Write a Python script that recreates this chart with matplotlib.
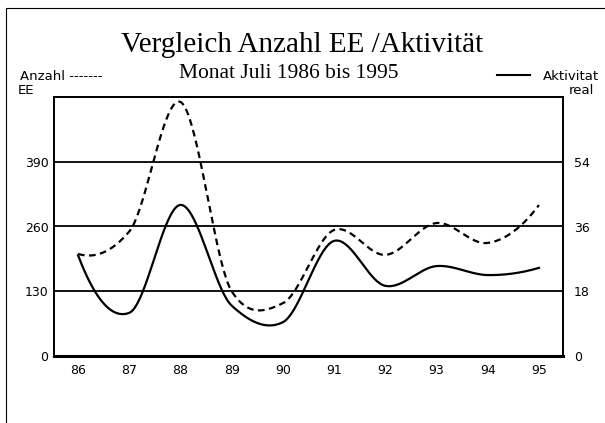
import numpy as np
import matplotlib
matplotlib.use("Agg")
import matplotlib.pyplot as plt
from matplotlib.patches import Rectangle

# Jahreswerte (Monat Juli)
jahre = [86, 87, 88, 89, 90, 91, 92, 93, 94, 95]
anzahl_ee = [205, 250, 510, 130, 106, 253, 203, 267, 227, 303]
aktivitaet = [28, 12, 42, 14, 9.4, 32, 19.5, 25, 22.5, 24.5]
x_labels = ["86", "87", "88", "89", "90", "91", "92", "93", "94", "95"]
left_ticks = [0, 130, 260, 390]
right_ticks = [0, 18, 36, 54]


def smooth(x, y, tension=0.8, n=40):
    """Geglättete Linie (Catmull-Rom-Hermite), wie bei alten Tabellenkalkulationen."""
    x = np.asarray(x, float)
    y = np.asarray(y, float)
    k = len(x)
    m = np.zeros(k)
    m[1:-1] = tension * (y[2:] - y[:-2]) / (x[2:] - x[:-2])
    # Randtangenten: Parabel durch die ersten/letzten zwei Punkte
    m[0] = 2 * (y[1] - y[0]) / (x[1] - x[0]) - m[1]
    m[-1] = 2 * (y[-1] - y[-2]) / (x[-1] - x[-2]) - m[-2]
    xs_all, ys_all = [], []
    t = np.linspace(0, 1, n)
    for i in range(k - 1):
        h = x[i + 1] - x[i]
        h00 = 2 * t**3 - 3 * t**2 + 1
        h10 = t**3 - 2 * t**2 + t
        h01 = -2 * t**3 + 3 * t**2
        h11 = t**3 - t**2
        xs_all.append(x[i] + t * h)
        ys_all.append(h00 * y[i] + h10 * h * m[i] + h01 * y[i + 1] + h11 * h * m[i + 1])
    return np.concatenate(xs_all), np.concatenate(ys_all)


W, H = 605, 423
fig = plt.figure(figsize=(W / 100, H / 100), dpi=100)
fig.patch.set_facecolor("white")

# Rahmen
fig.add_artist(Rectangle((6 / W, -0.01), 1.0, 1 - 8 / H + 0.01, transform=fig.transFigure,
                         fill=False, lw=0.8, ec="black"))

ax = fig.add_axes([54 / W, 1 - 356 / H, (563 - 54) / W, (356 - 97) / H])
ax2 = ax.twinx()

xs, ys = smooth(jahre, anzahl_ee)
ax.plot(xs, ys, color="black", lw=1.6, dashes=(3, 2))
xs2, ys2 = smooth(jahre, aktivitaet)
ax2.plot(xs2, ys2, color="black", lw=1.6)

ax.set_xlim(85.53, 95.47)
ax.set_ylim(0, 520)
ax2.set_ylim(0, 72)

for v in left_ticks[1:]:
    ax.axhline(v, color="black", lw=1.3)

ax.set_xticks(jahre)
ax.set_xticklabels(x_labels)
ax.set_yticks(left_ticks)
ax2.set_yticks(right_ticks)
ax.tick_params(length=0, labelsize=9, pad=6)
ax.tick_params(axis="y", pad=4)
ax2.tick_params(length=0, labelsize=9, pad=8)
for a in (ax, ax2):
    for s in a.spines.values():
        s.set_color("black")
        s.set_linewidth(1.3)
ax.spines["bottom"].set_linewidth(2.2)

serif = ["Liberation Serif", "DejaVu Serif"]
fig.text(0.5, 1 - 45 / H, "Vergleich Anzahl EE /Aktivität", ha="center", va="center",
         fontsize=21, family=serif)
fig.text(289 / W, 1 - 74 / H, "Monat Juli 1986 bis 1995", ha="center", va="center",
         fontsize=15.5, family=serif)
fig.text(20 / W, 1 - 77 / H, "Anzahl -------", ha="left", va="center", fontsize=9.5)
fig.text(18 / W, 1 - 90 / H, "EE", ha="left", va="center", fontsize=9.5)
fig.add_artist(plt.Line2D([497 / W, 530 / W], [1 - 75 / H, 1 - 75 / H],
                          transform=fig.transFigure, color="black", lw=1.5))
fig.text(599 / W, 1 - 77 / H, "Aktivitat", ha="right", va="center", fontsize=9.5)
fig.text(569 / W, 1 - 90 / H, "real", ha="left", va="center", fontsize=9.5)

fig.savefig("out.png", dpi=100, facecolor="white")
